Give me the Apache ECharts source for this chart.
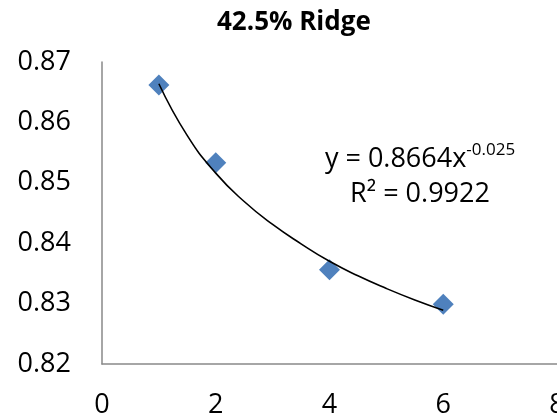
<!DOCTYPE html>
<html>
<head>
<meta charset="utf-8">
<script src="https://cdn.jsdelivr.net/npm/echarts@6/dist/echarts.min.js"></script>
<style>
html,body{margin:0;padding:0;background:#fff;}
#chart{width:557px;height:420px;}
</style>
</head>
<body>
<div id="chart"></div>
<script>
const chartTitle = '42.5% Ridge';
const xValues = [1, 2, 4, 6];
const yValues = [0.8662, 0.8533, 0.8356, 0.8299];
const trendX = [1, 1.5, 2, 2.5, 3, 3.5, 4, 4.5, 5, 5.5, 6];
const trendY = [0.8664, 0.8578, 0.8516, 0.8469, 0.8431, 0.8399, 0.8370, 0.8346, 0.8325, 0.8306, 0.8289];
const xTicks = [0, 2, 4, 6, 8];
const yTicks = ['0.82', '0.83', '0.84', '0.85', '0.86', '0.87'];
const eqMain = 'y = 0.8664x';
const eqExp = '-0.025';
const eqR2 = 'R² = 0.9922';

const FONT = '"Open Sans", "Liberation Sans", sans-serif';
const chart = echarts.init(document.getElementById('chart'), null, {renderer: 'canvas'});

const option = {
  backgroundColor: '#ffffff',
  animation: false,
  grid: {left: 102, right: 0, top: 62, bottom: 56, containLabel: false, outerBoundsMode: 'none'},
  xAxis: {
    type: 'value',
    min: xTicks[0],
    max: xTicks[xTicks.length - 1],
    interval: 2,
    axisLine: {show: true, lineStyle: {color: '#898989', width: 1.5}},
    axisTick: {show: false},
    splitLine: {show: false},
    axisLabel: {fontFamily: FONT, fontSize: 27, color: '#000', margin: 28, showMaxLabel: true, hideOverlap: false}
  },
  yAxis: {
    type: 'value',
    min: Number(yTicks[0]),
    max: Number(yTicks[yTicks.length - 1]),
    interval: 0.01,
    axisLine: {show: true, lineStyle: {color: '#898989', width: 1.5}},
    axisTick: {show: false},
    splitLine: {show: false},
    axisLabel: {
      fontFamily: FONT, fontSize: 27, color: '#000', margin: 31,
      formatter: v => v.toFixed(2)
    }
  },
  series: [
    {
      type: 'scatter',
      symbol: 'diamond',
      symbolSize: 21,
      itemStyle: {color: '#4F81BD', opacity: 1},
      data: xValues.map((x, i) => [x, yValues[i]]),
      z: 2
    },
    {
      type: 'line',
      smooth: true,
      showSymbol: false,
      lineStyle: {color: '#000', width: 1.6},
      data: trendX.map((x, i) => [x, trendY[i]]),
      z: 3
    }
  ],
  graphic: [
    {
      type: 'text',
      left: 296 - 79,
      top: 10,
      style: {
        text: chartTitle,
        font: 'bold 26px ' + FONT,
        fill: '#000'
      }
    },
    {
      type: 'text',
      x: 420,
      y: 138,
      style: {
        text: '{m|' + eqMain + '}{s|' + eqExp + '}\n{m|' + eqR2 + '}',
        align: 'center',
        fill: '#000',
        rich: {
          m: {fontFamily: FONT, fontSize: 27, lineHeight: 35, verticalAlign: 'bottom'},
          s: {fontFamily: FONT, fontSize: 17, lineHeight: 35, verticalAlign: 'top', padding: [4, 0, 0, 0]}
        }
      }
    }
  ]
};
chart.setOption(option);
</script>
</body>
</html>
